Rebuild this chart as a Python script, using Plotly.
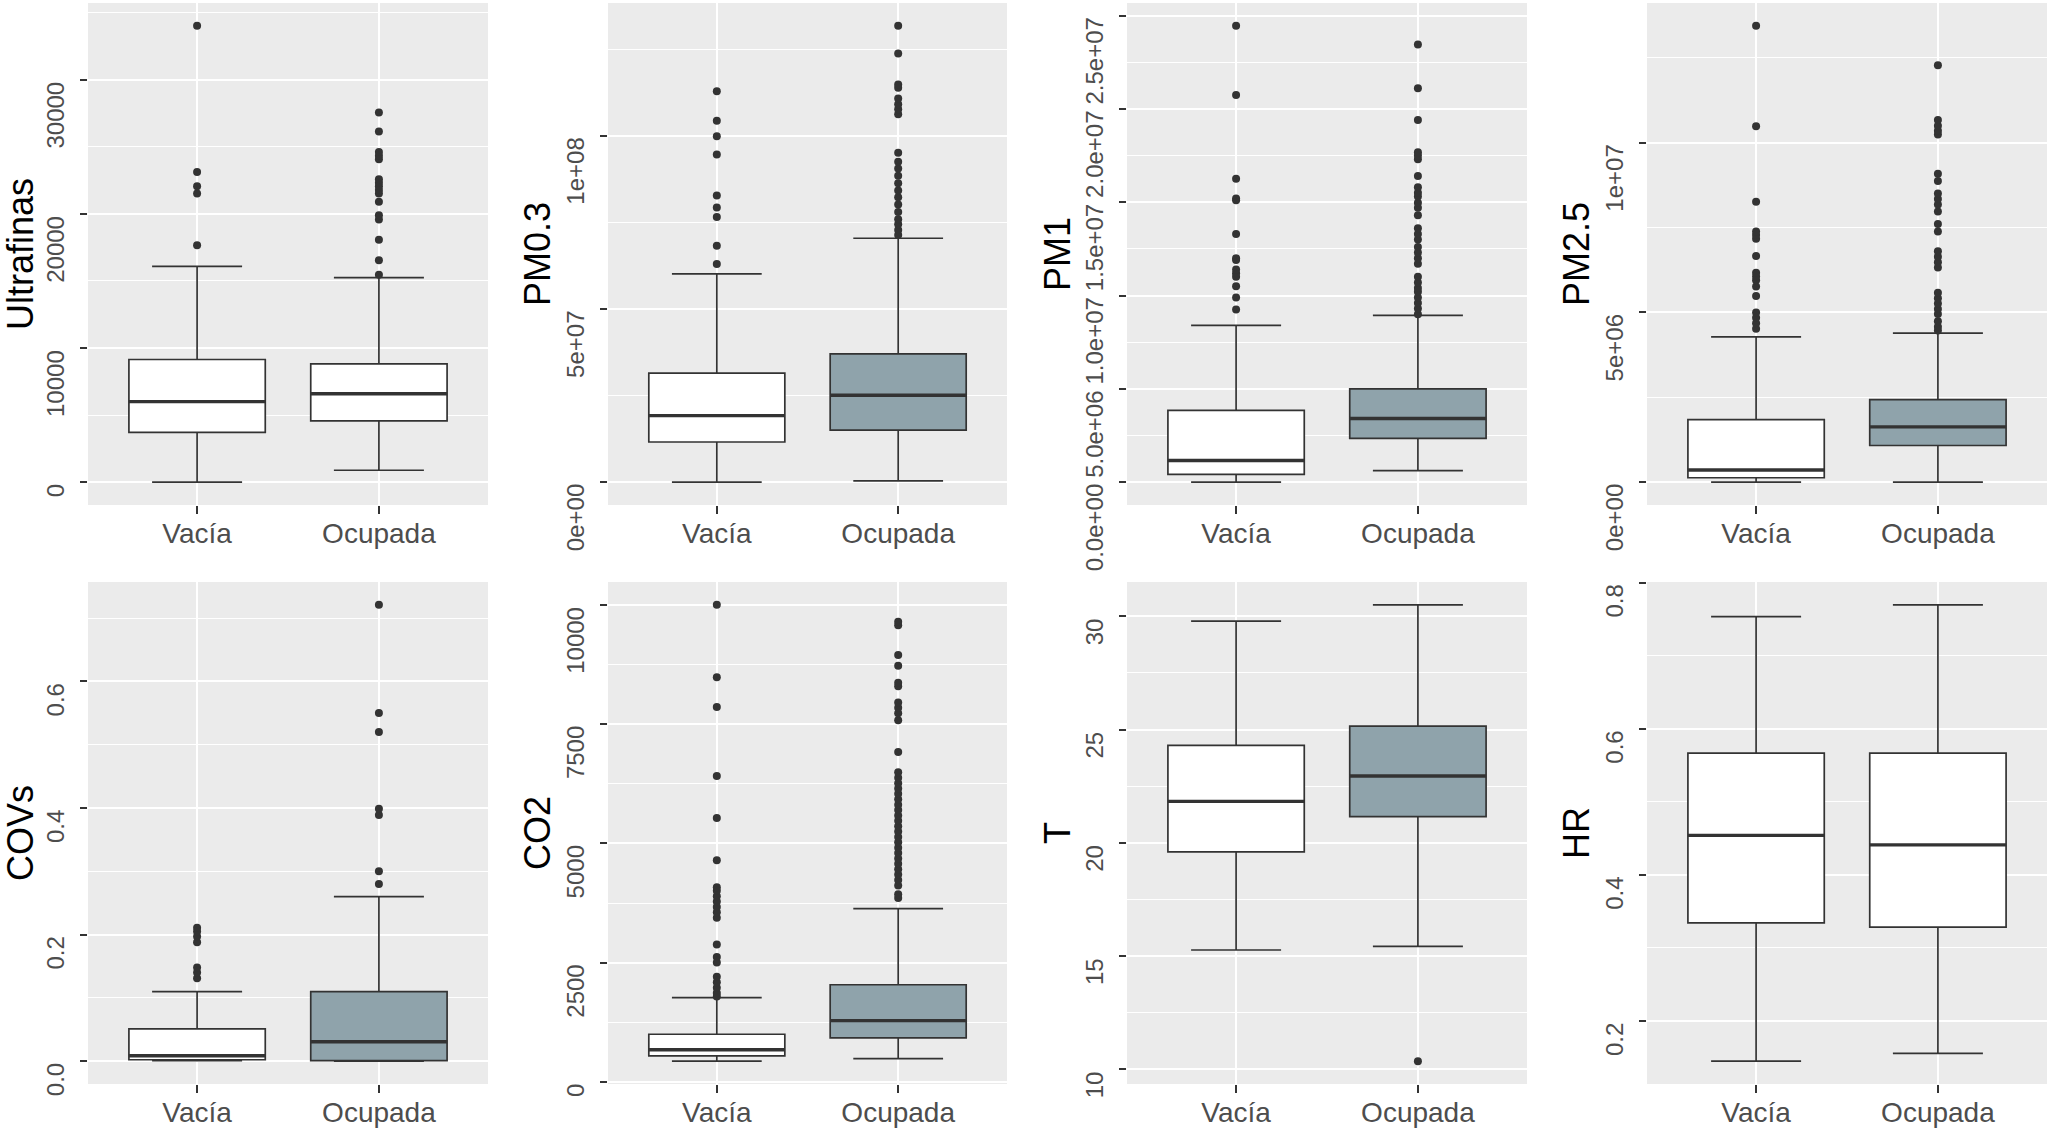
"""
Boxplots of indoor air quality variables, empty (Vacía) vs occupied (Ocupada) room.
"""

import plotly.graph_objects as go

GROUPS = ["Vacía", "Ocupada"]

# box stats per group: [lower whisker, q1, median, q3, upper whisker]
ULTRAFINAS_VACIA = [0, 3710, 6000, 9140, 16075]
ULTRAFINAS_OCUPADA = [890, 4570, 6590, 8820, 15240]
ULTRAFINAS_OUT_VACIA = [17660, 21505, 22043, 23118, 34005]
ULTRAFINAS_OUT_OCUPADA = [15457, 16532, 18065, 19570, 19892, 20887, 21505, 21774, 22043,
                          22312, 22581, 24059, 24328, 24597, 26129, 27554]
ULTRAFINAS_TICKS = [0, 10000, 20000, 30000]
ULTRAFINAS_LABELS = ["0", "10000", "20000", "30000"]

PM03_VACIA = [0, 1.16e7, 1.92e7, 3.15e7, 6.01e7]
PM03_OCUPADA = [0.04e7, 1.50e7, 2.51e7, 3.70e7, 7.04e7]
PM03_OUT_VACIA = [6.30e7, 6.82e7, 7.65e7, 7.93e7, 8.27e7, 9.46e7, 9.98e7, 1.043e8, 1.128e8]
PM03_OUT_OCUPADA = [7.13e7, 7.28e7, 7.44e7, 7.59e7, 7.80e7, 8.01e7, 8.22e7, 8.42e7, 8.63e7,
                    8.84e7, 9.05e7, 9.25e7, 9.51e7, 1.062e8, 1.076e8, 1.091e8, 1.107e8,
                    1.138e8, 1.148e8, 1.237e8, 1.317e8]
PM03_TICKS = [0, 5e7, 1e8]
PM03_LABELS = ["0e+00", "5e+07", "1e+08"]

PM1_VACIA = [0, 0.42e6, 1.16e6, 3.85e6, 8.40e6]
PM1_OCUPADA = [0.62e6, 2.35e6, 3.41e6, 5.00e6, 8.94e6]
PM1_OUT_VACIA = [9.25e6, 9.9e6, 10.5e6, 11.0e6, 11.2e6, 11.4e6, 11.9e6, 12.0e6, 13.3e6,
                 15.1e6, 15.2e6, 16.26e6, 20.75e6, 24.45e6]
PM1_OUT_OCUPADA = [9.0e6, 9.3e6, 9.6e6, 9.9e6, 10.2e6, 10.4e6, 10.7e6, 11.0e6, 11.7e6,
                   12.0e6, 12.3e6, 12.6e6, 13.0e6, 13.3e6, 13.6e6, 14.3e6, 14.7e6, 14.97e6,
                   15.3e6, 15.5e6, 15.8e6, 16.4e6, 17.3e6, 17.5e6, 17.67e6, 19.4e6, 21.1e6,
                   23.45e6]
PM1_TICKS = [0, 5e6, 1e7, 1.5e7, 2e7, 2.5e7]
PM1_LABELS = ["0.0e+00", "5.0e+06", "1.0e+07", "1.5e+07", "2.0e+07", "2.5e+07"]

PM25_VACIA = [0, 0.13e6, 0.36e6, 1.84e6, 4.28e6]
PM25_OCUPADA = [0, 1.08e6, 1.63e6, 2.43e6, 4.39e6]
PM25_OUT_VACIA = [4.52e6, 4.68e6, 4.84e6, 5.0e6, 5.48e6, 5.76e6, 5.95e6, 6.06e6, 6.17e6,
                  6.66e6, 7.17e6, 7.28e6, 7.38e6, 8.26e6, 10.48e6, 13.44e6]
PM25_OUT_OCUPADA = [4.47e6, 4.58e6, 4.74e6, 4.95e6, 5.1e6, 5.26e6, 5.42e6, 5.58e6, 6.32e6,
                    6.48e6, 6.64e6, 6.8e6, 7.38e6, 7.6e6, 7.97e6, 8.18e6, 8.34e6, 8.5e6,
                    8.87e6, 9.08e6, 10.24e6, 10.35e6, 10.5e6, 10.67e6, 12.28e6]
PM25_TICKS = [0, 5e6, 1e7]
PM25_LABELS = ["0e+00", "5e+06", "1e+07"]

COVS_VACIA = [0.001, 0.0023, 0.0085, 0.051, 0.110]
COVS_OCUPADA = [0.0, 0.001, 0.0306, 0.110, 0.260]
COVS_OUT_VACIA = [0.131, 0.140, 0.148, 0.188, 0.197, 0.205, 0.211]
COVS_OUT_OCUPADA = [0.280, 0.300, 0.389, 0.399, 0.520, 0.550, 0.721]
COVS_TICKS = [0.0, 0.2, 0.4, 0.6]
COVS_LABELS = ["0.0", "0.2", "0.4", "0.6"]

CO2_VACIA = [436, 549, 677, 1000, 1767]
CO2_OCUPADA = [489, 925, 1286, 2038, 3632]
CO2_OUT_VACIA = [1790, 1865, 1977, 2090, 2203, 2504, 2617, 2880, 3444, 3556, 3669, 3782,
                 3895, 4008, 4083, 4647, 5534, 6414, 7857, 8481, 10000]
CO2_OUT_OCUPADA = [3857, 3932, 4120, 4233, 4346, 4459, 4571, 4684, 4797, 4910, 5023, 5135,
                   5248, 5361, 5474, 5586, 5699, 5812, 5925, 6038, 6150, 6263, 6376, 6489,
                   6917, 7579, 7729, 7842, 7955, 8293, 8368, 8722, 8947, 9571, 9647]
CO2_TICKS = [0, 2500, 5000, 7500, 10000]
CO2_LABELS = ["0", "2500", "5000", "7500", "10000"]

T_VACIA = [15.27, 19.60, 21.83, 24.30, 29.79]
T_OCUPADA = [15.43, 21.16, 22.95, 25.15, 30.51]
T_OUT_VACIA = []
T_OUT_OCUPADA = [10.36]
T_TICKS = [10, 15, 20, 25, 30]
T_LABELS = ["10", "15", "20", "25", "30"]

HR_VACIA = [0.145, 0.3343, 0.4540, 0.5666, 0.7534]
HR_OCUPADA = [0.1557, 0.3284, 0.441, 0.5666, 0.7695]
HR_OUT_VACIA = []
HR_OUT_OCUPADA = []
HR_TICKS = [0.2, 0.4, 0.6, 0.8]
HR_LABELS = ["0.2", "0.4", "0.6", "0.8"]

PANELS = [
    ("Ultrafinas", [ULTRAFINAS_VACIA, ULTRAFINAS_OCUPADA], [ULTRAFINAS_OUT_VACIA, ULTRAFINAS_OUT_OCUPADA], ULTRAFINAS_TICKS, ULTRAFINAS_LABELS),
    ("PM0.3", [PM03_VACIA, PM03_OCUPADA], [PM03_OUT_VACIA, PM03_OUT_OCUPADA], PM03_TICKS, PM03_LABELS),
    ("PM1", [PM1_VACIA, PM1_OCUPADA], [PM1_OUT_VACIA, PM1_OUT_OCUPADA], PM1_TICKS, PM1_LABELS),
    ("PM2.5", [PM25_VACIA, PM25_OCUPADA], [PM25_OUT_VACIA, PM25_OUT_OCUPADA], PM25_TICKS, PM25_LABELS),
    ("COVs", [COVS_VACIA, COVS_OCUPADA], [COVS_OUT_VACIA, COVS_OUT_OCUPADA], COVS_TICKS, COVS_LABELS),
    ("CO2", [CO2_VACIA, CO2_OCUPADA], [CO2_OUT_VACIA, CO2_OUT_OCUPADA], CO2_TICKS, CO2_LABELS),
    ("T", [T_VACIA, T_OCUPADA], [T_OUT_VACIA, T_OUT_OCUPADA], T_TICKS, T_LABELS),
    ("HR", [HR_VACIA, HR_OCUPADA], [HR_OUT_VACIA, HR_OUT_OCUPADA], HR_TICKS, HR_LABELS),
]

# styling
W, H = 2050, 1130
FONT = "Liberation Sans, Arial, sans-serif"
INK = "#333333"
TICK_TEXT = "#4D4D4D"
PANEL_BG = "#EBEBEB"
FILLS = {"default": ["white", "#8FA3AB"], "Ultrafinas": ["white", "white"], "HR": ["white", "white"]}
COL_PX = [(88, 488), (608, 1007), (1127, 1527), (1647, 2047)]
ROW_PX = [(3, 505), (582, 1084)]
TITLE_X_PX = [20, 537, 1057, 1576]
BOX_W = 0.75

fig = go.Figure()
layout = {}
annotations = []

for n, (name, stats, outs, ticks, labels) in enumerate(PANELS, start=1):
    row, col = divmod(n - 1, 4)
    sfx = "" if n == 1 else str(n)
    xref, yref = "x" + sfx, "y" + sfx
    fills = FILLS.get(name, FILLS["default"])

    for i, (s, out) in enumerate(zip(stats, outs)):
        fig.add_trace(go.Box(
            x=[i], lowerfence=[s[0]], q1=[s[1]], median=[s[2]], q3=[s[3]], upperfence=[s[4]],
            width=BOX_W, whiskerwidth=0.66, fillcolor=fills[i],
            line=dict(color=INK, width=1.7), boxpoints=False,
            xaxis=xref, yaxis=yref, showlegend=False, hoverinfo="skip"))
        fig.add_trace(go.Scatter(
            x=[i - BOX_W / 2, i + BOX_W / 2], y=[s[2], s[2]], mode="lines",
            line=dict(color=INK, width=3.4), xaxis=xref, yaxis=yref,
            showlegend=False, hoverinfo="skip"))
        if out:
            fig.add_trace(go.Scatter(
                x=[i] * len(out), y=out, mode="markers",
                marker=dict(size=8, color=INK), xaxis=xref, yaxis=yref,
                showlegend=False, hoverinfo="skip"))

    # ggplot-like 5% expansion of the data range
    vals = [v for s in stats for v in s] + [v for o in outs for v in o]
    lo, hi = min(vals), max(vals)
    pad = (hi - lo) * 0.05
    yrange = [lo - pad, hi + pad]
    step = ticks[1] - ticks[0]
    minor = [t + step / 2 for t in [ticks[0] - step] + ticks]
    minor = [m for m in minor if yrange[0] <= m <= yrange[1]]

    x0, x1 = COL_PX[col]
    y0, y1 = ROW_PX[row]
    layout["xaxis" + sfx] = dict(
        domain=[x0 / W, x1 / W], anchor=yref, range=[-0.6, 1.6],
        tickvals=[0, 1], ticktext=GROUPS, showgrid=True, gridcolor="white", gridwidth=2.2,
        ticks="outside", ticklen=8, tickwidth=2, tickcolor=INK, zeroline=False,
        ticklabelstandoff=-5,
        tickfont=dict(family=FONT, size=28, color=TICK_TEXT), fixedrange=True)
    layout["yaxis" + sfx] = dict(
        domain=[1 - y1 / H, 1 - y0 / H], anchor=xref, range=yrange,
        tickvals=ticks, showticklabels=False, showgrid=True, gridcolor="white",
        gridwidth=2.2, ticks="outside", ticklen=7, tickwidth=2, tickcolor=INK,
        zeroline=False, fixedrange=True,
        minor=dict(tickvals=minor, showgrid=True, gridcolor="white", gridwidth=1.1, ticks=""))

    for t, lab in zip(ticks, labels):
        annotations.append(dict(
            text=lab, xref=xref + " domain", x=-17 / (x1 - x0), xanchor="right",
            yref=yref, y=t, yanchor="top", textangle=-90, showarrow=False,
            font=dict(family=FONT, size=24, color=TICK_TEXT)))
    annotations.append(dict(
        text=name, xref="paper", x=TITLE_X_PX[col] / W, xanchor="center",
        yref="paper", y=1 - (y0 + y1) / 2 / H, yanchor="middle", textangle=-90,
        showarrow=False, font=dict(family=FONT, size=36, color="black")))

fig.update_layout(
    width=W, height=H, margin=dict(l=0, r=0, t=0, b=0),
    paper_bgcolor="white", plot_bgcolor=PANEL_BG, boxmode="overlay",
    annotations=annotations, **layout)

fig.write_html("out.html", config={"displayModeBar": False},
               post_script="document.body.style.margin='0';document.body.style.overflow='hidden';")
